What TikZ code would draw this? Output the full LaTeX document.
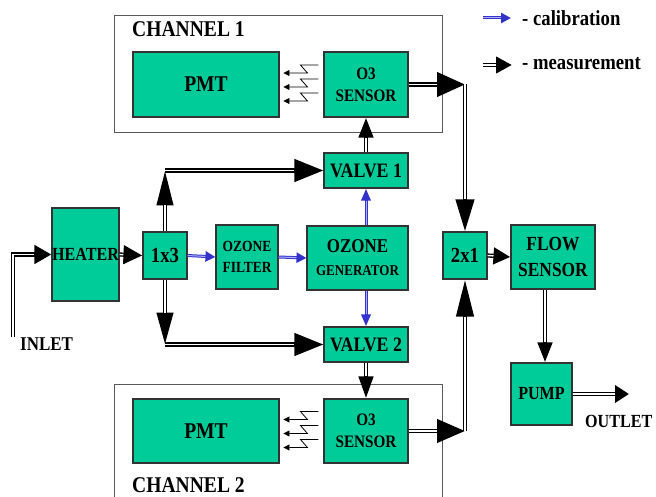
\documentclass[tikz,border=0pt]{standalone}
\usepackage{fontspec}
\setmainfont[FakeStretch=0.87]{Liberation Serif}
\usetikzlibrary{arrows.meta,calc}
\definecolor{boxgreen}{RGB}{0,204,153}
\definecolor{calblue}{RGB}{51,51,204}
\definecolor{calpale}{RGB}{175,175,255}
\tikzset{
  blk/.style={draw=black!80, line width=1.1pt, fill=boxgreen, inner sep=0pt, align=center},
  chbox/.style={draw=black!65, line width=0.8pt},
  txt/.style={inner sep=0pt, anchor=west},
  glow/.style={line width=0.8pt, -{Triangle[length=6pt,width=6pt]}},
}
\newcommand{\fs}[2]{\bfseries\fontsize{#1}{#2}\selectfont}
\newcommand{\measarrow}[3]{%
  \draw[line width=4.2pt, -{Triangle[length=#1,width=#2]}] #3;
  \draw[white, line width=1.4pt, shorten >=#1] #3;}
\newcommand{\calarrow}[3]{%
  \draw[calblue, line width=3pt, -{Triangle[length=#1,width=#2]}] #3;
  \draw[calpale, line width=1pt, shorten >=#1] #3;}
\begin{document}
\begin{tikzpicture}[x=1pt,y=-1pt]
\useasboundingbox (0,0) rectangle (656,497);
% channel frames
\node[chbox, minimum width=328, minimum height=117, inner sep=0pt] (ch1) at (278,73.5) {};
\draw[chbox] (114,497) |- (442,384) -- (442,497);
\node[txt, font=\fs{22.5}{22}] (lch1) at (132,29) {CHANNEL 1};
\node[txt, font=\fs{22.5}{22}] (lch2) at (132,485) {CHANNEL 2};
% blocks
\node[blk, minimum width=146, minimum height=65, font=\fs{22.5}{22}] (pmt1) at (206,84.5) {PMT};
\node[blk, minimum width=84, minimum height=65, font=\fs{17.5}{22}] (s1) at (366,84.5) {O3\\SENSOR};
\node[blk, minimum width=146, minimum height=64, font=\fs{22.5}{22}] (pmt2) at (206,431) {PMT};
\node[blk, minimum width=84, minimum height=64, font=\fs{17.5}{22}] (s2) at (366,431) {O3\\SENSOR};
\node[blk, minimum width=67, minimum height=93, font=\fs{18.5}{20}] (heater) at (85.5,254.5) {HEATER};
\node[blk, minimum width=44, minimum height=47, font=\fs{21.5}{22}] (x13) at (165,255.5) {1x3};
\node[blk, minimum width=62, minimum height=64, font=\fs{15.5}{21}] (ofil) at (247,257) {OZONE\\FILTER};
\node[blk, minimum width=101, minimum height=64, font=\fs{15}{23}] (ogen) at (357.5,258) {{\fs{19.5}{23}OZONE}\\GENERATOR};
\node[blk, minimum width=84, minimum height=35, font=\fs{20.5}{22}] (v1) at (366,170.5) {VALVE 1};
\node[blk, minimum width=84, minimum height=35, font=\fs{20.5}{22}] (v2) at (366,344.5) {VALVE 2};
\node[blk, minimum width=44, minimum height=47, font=\fs{21.5}{22}] (x21) at (465,255.5) {2x1};
\node[blk, minimum width=84, minimum height=64, font=\fs{20}{26}] (flow) at (553,257) {FLOW\\SENSOR};
\node[blk, minimum width=61, minimum height=62, font=\fs{18.5}{20}] (pump) at (541.5,394) {PUMP};
% labels
\node[txt, font=\fs{19.5}{20}] (linlet) at (20,344) {INLET};
\node[txt, font=\fs{18.5}{20}] (loutlet) at (585,421) {OUTLET};
\node[txt, font=\fs{21.5}{20}] (lcal) at (522,18) {- calibration};
\node[txt, font=\fs{21.5}{20}] (lmeas) at (522,64) {- measurement};
% coordinates
\coordinate (inl) at (13,337);
\coordinate (out) at (629,394);
\coordinate (lc1) at (483,18);
\coordinate (lc2) at (511,18);
\coordinate (lm1) at (483,65);
\coordinate (lm2) at (512,65);
\coordinate (pt) at ([xshift=3.5pt]pump.north);
% light emission arrows
\foreach \dy in {-11.5,2.5,16.5}{
  \draw[glow] ([shift={(-5,\dy-8)}]s1.west) -- ++(-18,0) -- ++(7,8) -- ++(-24,0);
  \draw[glow] ([shift={(-5,\dy-8)}]s2.west) -- ++(-18,0) -- ++(7,8) -- ++(-24,0);
}
% measurement flow
\measarrow{17pt}{18pt}{(inl) |- (heater.west)}
\measarrow{19pt}{18pt}{(heater.east) -- (x13.west)}
\measarrow{35pt}{16pt}{(x13.north) -- (x13.north |- v1.west)}
\measarrow{29pt}{22pt}{(x13.north |- v1.west) -- (v1.west)}
\measarrow{32pt}{16pt}{(x13.south) -- (x13.south |- v2.west)}
\measarrow{29pt}{22pt}{(x13.south |- v2.west) -- (v2.west)}
\measarrow{20pt}{14pt}{(v1.north) -- (s1.south)}
\measarrow{22pt}{14pt}{(v2.south) -- (s2.north)}
\measarrow{28pt}{24pt}{(s1.east) -- (x21.north |- s1.east)}
\measarrow{32pt}{18pt}{(x21.north |- s1.east) -- (x21.north)}
\measarrow{28pt}{23pt}{(s2.east) -- (x21.south |- s2.east)}
\measarrow{37pt}{17pt}{(x21.south |- s2.east) -- (x21.south)}
\measarrow{17pt}{16pt}{(x21.east) -- (flow.west)}
\measarrow{20pt}{14pt}{(flow.south -| pt) -- (pt)}
\measarrow{14pt}{17pt}{(pump.east) -- (out)}
\measarrow{16pt}{16pt}{(lm1) -- (lm2)}
% calibration flow
\calarrow{10pt}{10pt}{(x13.east) -- (ofil.west)}
\calarrow{10pt}{10pt}{(ofil.east) -- (ogen.west)}
\calarrow{12pt}{9pt}{(ogen.north -| v1.south) -- (v1.south)}
\calarrow{12pt}{9pt}{(ogen.south -| v2.north) -- (v2.north)}
\calarrow{10pt}{10pt}{(lc1) -- (lc2)}
\end{tikzpicture}
\end{document}
